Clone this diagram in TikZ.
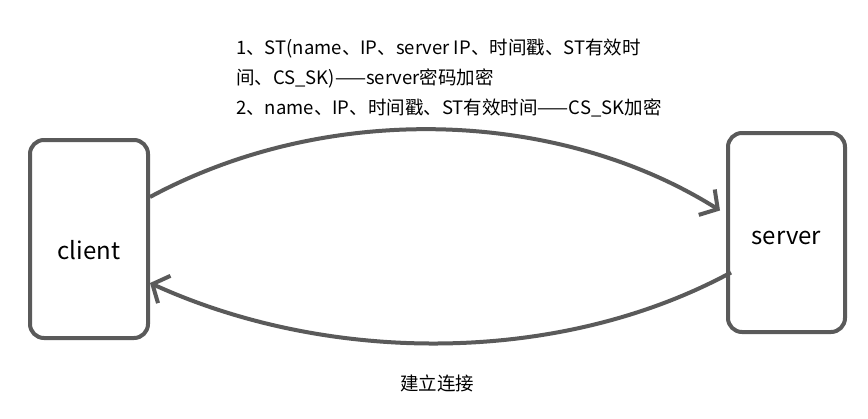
\documentclass[tikz,border=0pt]{standalone}
\usepackage{fontspec}
\setmainfont{Noto Sans CJK SC}
\usepackage{tikz}
\usetikzlibrary{arrows.meta}
\usetikzlibrary{positioning}
\definecolor{boxgray}{HTML}{5A5A5A}
\tikzstyle{host}=[draw=boxgray,line width=4pt,rounded corners=14pt,fill=white,
                text=black,font=\fontsize{24}{28}\selectfont]
\tikzstyle{conn}=[draw=boxgray,line width=4pt,
                -{Straight Barb[length=13pt,width=30pt,line width=4pt]}]
\tikzstyle{note}=[text=black,font=\fontsize{18.5}{30}\selectfont,inner sep=0pt]
\begin{document}
\begin{tikzpicture}[x=1pt,y=-1pt]
\useasboundingbox[fill=white] (0,0) rectangle (868,418);
\node[host,minimum width=118pt,minimum height=198pt] (client) at (89,239) {\raisebox{-20pt}[0pt][0pt]{client}};
\node[host,minimum width=117pt,minimum height=199pt] (server) at (786.5,232.5) {\raisebox{-12pt}[0pt][0pt]{server}};
\draw[conn] ([yshift=42pt]client.east) .. controls (330,100) and (560,110) .. ([xshift=-6pt,yshift=22pt]server.west);
\draw[conn] ([xshift=5pt,yshift=-40pt]server.west) .. controls (560,365) and (330,365) .. ([xshift=0pt,yshift=-44pt]client.east);
\node[note,align=left,anchor=north west] (label) at (236,39)
  {1、ST(name、IP、server IP、时间戳、ST有效时\\
   间、CS\_SK)——server密码加密\\
   2、name、IP、时间戳、ST有效时间——CS\_SK加密};
\node[note] (link) at (437,383) {建立连接};
\end{tikzpicture}
\end{document}
